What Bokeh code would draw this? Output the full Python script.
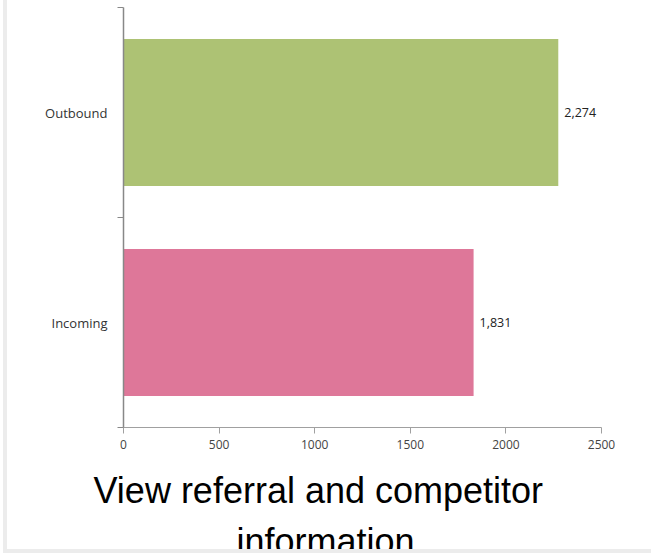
from bokeh.plotting import figure
from bokeh.models import FixedTicker, Title, ColumnDataSource, Range1d
from bokeh.core.properties import value
from bokeh.embed import file_html
from bokeh.resources import INLINE

categories = ["Incoming", "Outbound"]          # bottom to top
counts = [1831, 2274]
bar_colors = ["#de7799", "#adc274"]
x_ticks = [0, 500, 1000, 1500, 2000, 2500]
title_lines = ["View referral and competitor", "information"]

ypos = [i + 0.5 for i in range(len(categories))]
labels = [f"{c:,}" for c in counts]
src = ColumnDataSource(dict(y=ypos, v=counts, c=bar_colors, lab=labels))

p = figure(width=648, height=553, output_backend="svg", toolbar_location=None,
           x_range=Range1d(0, 2500), y_range=Range1d(0, len(categories)),
           min_border_left=116, min_border_right=54, min_border_top=7, min_border_bottom=0)
p.styles = {"margin-left": "3px", "border-left": "4px solid #ececec",
            "border-bottom": "4px solid #ececec"}
p.outline_line_color = None
p.xgrid.visible = False
p.ygrid.visible = False

p.hbar(y="y", right="v", left=0, height=0.7, fill_color="c", line_color=None, source=src)
p.text(x="v", y="y", text="lab", x_offset=6, text_baseline="middle", text_align="left",
       text_font=value("Open Sans"), text_font_size="12.5px", text_color="#222222", source=src)

# x axis
xa = p.xaxis[0]
xa.ticker = FixedTicker(ticks=x_ticks)
xa.axis_line_color = "#a0a0a0"
xa.major_tick_line_color = "#a0a0a0"
xa.major_tick_out = 6
xa.major_tick_in = 0
xa.minor_tick_out = 0
xa.minor_tick_in = 0
xa.major_label_text_font = "Open Sans"
xa.major_label_text_font_size = "12px"
xa.major_label_text_color = "#444444"
xa.major_label_standoff = 6

# y axis
ya = p.yaxis[0]
ya.ticker = FixedTicker(ticks=ypos, minor_ticks=list(range(len(categories) + 1)))
ya.major_label_overrides = {y: c for y, c in zip(ypos, categories)}
ya.axis_line_color = "#888888"
ya.axis_line_width = 1.5
ya.major_tick_out = 0
ya.major_tick_in = 0
ya.minor_tick_out = 6
ya.minor_tick_in = 0
ya.minor_tick_line_color = "#888888"
ya.major_label_text_font = "Open Sans"
ya.major_label_text_font_size = "13px"
ya.major_label_text_color = "#333333"
ya.major_label_standoff = 10

# two-line title below the axis
for txt, off, so in zip(title_lines, [-30, 113], [32, -16]):
    p.add_layout(Title(text=txt, align="left", offset=off, standoff=so,
                       text_font="Liberation Sans", text_font_size="36px",
                       text_font_style="normal", text_color="#000000"), "below")

open("out.html", "w").write(file_html(p, INLINE))
